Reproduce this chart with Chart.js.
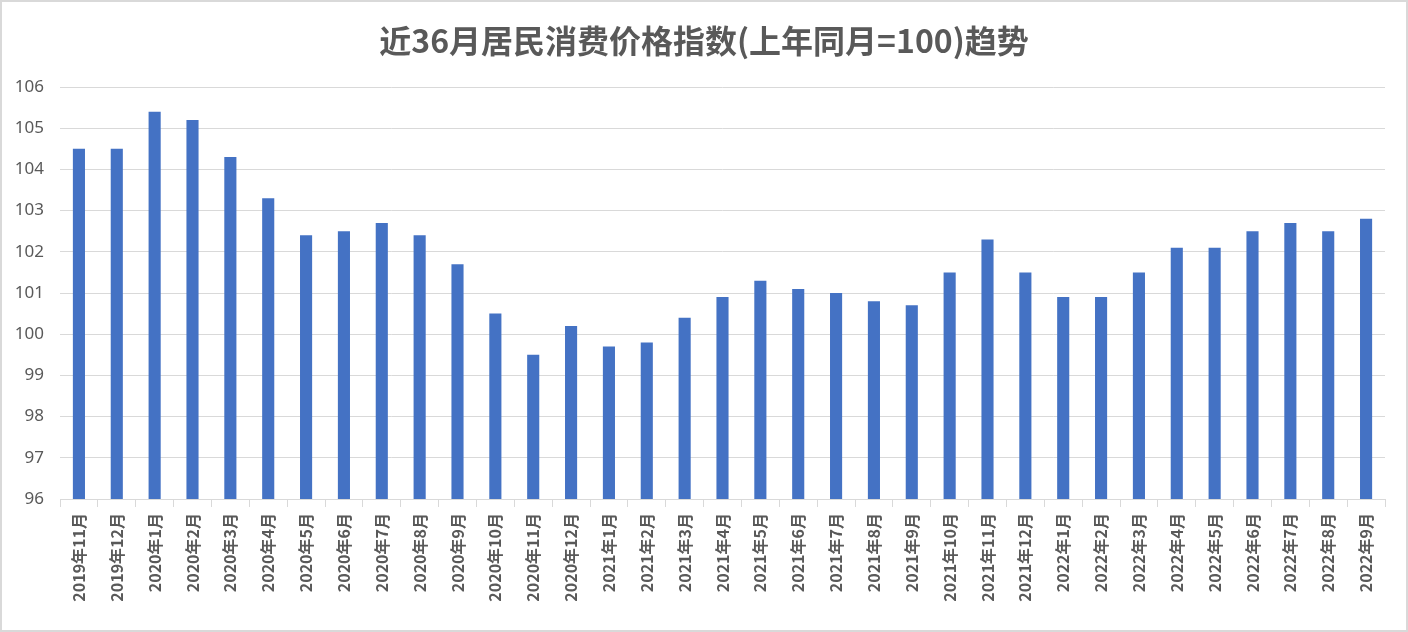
<!DOCTYPE html>
<html lang="zh">

<head>
    <meta charset="UTF-8" />
    <title>近36月居民消费价格指数趋势</title>
    <script src="https://cdn.jsdelivr.net/npm/chart.js"></script>
    <style>
        * {
            margin: 0;
            padding: 0;
            box-sizing: border-box;
        }

        body {
            background: #ffffff;
        }

        .chart-container {
            width: 1408px;
            height: 632px;
        }
    </style>
</head>

<body>
    <div class="chart-container">
        <canvas id="cpiChart"></canvas>
    </div>

    <script>
        const titleText = "近36月居民消费价格指数(上年同月=100)趋势";

        const months = [
            "2019年11月", "2019年12月",
            "2020年1月", "2020年2月", "2020年3月", "2020年4月", "2020年5月", "2020年6月",
            "2020年7月", "2020年8月", "2020年9月", "2020年10月", "2020年11月", "2020年12月",
            "2021年1月", "2021年2月", "2021年3月", "2021年4月", "2021年5月", "2021年6月",
            "2021年7月", "2021年8月", "2021年9月", "2021年10月", "2021年11月", "2021年12月",
            "2022年1月", "2022年2月", "2022年3月", "2022年4月", "2022年5月", "2022年6月",
            "2022年7月", "2022年8月", "2022年9月"
        ];

        const cpiValues = [
            104.5, 104.5,
            105.4, 105.2, 104.3, 103.3, 102.4, 102.5,
            102.7, 102.4, 101.7, 100.5, 99.5, 100.2,
            99.7, 99.8, 100.4, 100.9, 101.3, 101.1,
            101.0, 100.8, 100.7, 101.5, 102.3, 101.5,
            100.9, 100.9, 101.5, 102.1, 102.1, 102.5,
            102.7, 102.5, 102.8
        ];

        const yMin = 96;
        const yMax = 106;
        const yStep = 1;

        // white background + thin grey frame like the Excel chart
        const framePlugin = {
            id: "framePlugin",
            beforeDraw(chart) {
                const { ctx, width, height } = chart;
                ctx.save();
                ctx.fillStyle = "#ffffff";
                ctx.fillRect(0, 0, width, height);
                ctx.strokeStyle = "#d9d9d9";
                ctx.lineWidth = 2;
                ctx.strokeRect(1, 1, width - 2, height - 2);
                ctx.restore();
            }
        };

        const ctx = document.getElementById("cpiChart").getContext("2d");
        new Chart(ctx, {
            type: "bar",
            data: {
                labels: months,
                datasets: [{
                    label: "居民消费价格指数",
                    data: cpiValues,
                    backgroundColor: "#4472c4",
                    borderWidth: 0,
                    barPercentage: 0.32,
                    categoryPercentage: 1.0
                }]
            },
            options: {
                responsive: true,
                maintainAspectRatio: false,
                animation: false,
                layout: {
                    padding: { left: 0, right: 0, top: 0, bottom: 0 }
                },
                scales: {
                    x: {
                        grid: {
                            offset: true,
                            drawOnChartArea: false,
                            drawTicks: true,
                            tickLength: 8,
                            color: "#d9d9d9"
                        },
                        border: { color: "#d9d9d9", width: 1 },
                        ticks: {
                            color: "#595959",
                            minRotation: 90,
                            maxRotation: 90,
                            autoSkip: false,
                            padding: 6,
                            font: { family: "'Noto Sans CJK SC', sans-serif", size: 16, weight: "bold" }
                        },
                        afterFit(scale) {
                            scale.height = 133;
                        }
                    },
                    y: {
                        min: yMin,
                        max: yMax,
                        grid: {
                            color: "#d9d9d9",
                            drawTicks: false
                        },
                        border: { display: false },
                        ticks: {
                            stepSize: yStep,
                            color: "#595959",
                            padding: 16,
                            font: { family: "'Noto Sans', sans-serif", size: 17 }
                        },
                        afterFit(scale) {
                            scale.width = 60;
                        }
                    },
                    // empty right-hand axis, only reserves the right margin
                    // (layout padding would shift the centred title)
                    yRight: {
                        position: "right",
                        display: true,
                        grid: { drawOnChartArea: false, drawTicks: false },
                        border: { display: false },
                        ticks: { display: false },
                        afterFit(scale) {
                            scale.width = 23;
                        }
                    }
                },
                plugins: {
                    legend: { display: false },
                    tooltip: { enabled: false },
                    title: {
                        display: true,
                        text: titleText,
                        color: "#595959",
                        padding: { top: 22, bottom: 26.6 },
                        font: { family: "'Noto Sans CJK SC', sans-serif", size: 32, weight: "bold", lineHeight: 1.2 }
                    }
                }
            },
            plugins: [framePlugin]
        });
    </script>

</body>

</html>
